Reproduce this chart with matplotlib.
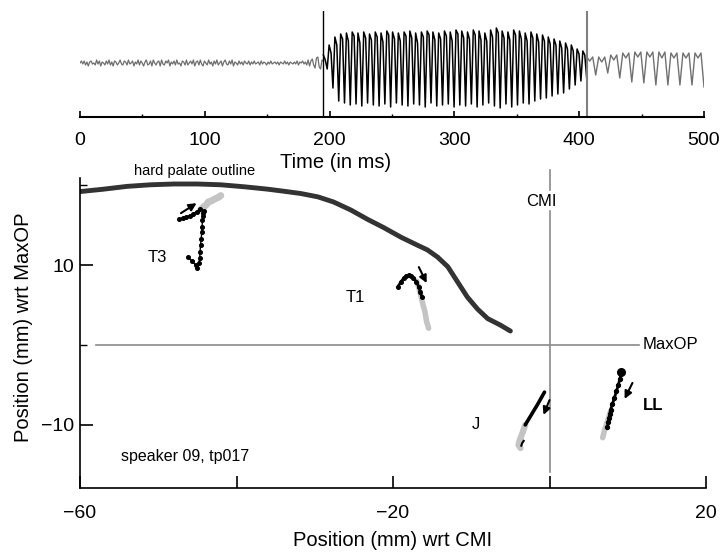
import numpy as np
import matplotlib
matplotlib.use("Agg")
import matplotlib.pyplot as plt

plt.rcParams['font.family'] = ['Liberation Sans', 'DejaVu Sans']

# ---- top panel: acoustic waveform (amplitude in arbitrary units) ----
noise_vals = [0, 2, -1, 2, -2, 1, -3, 1, 2, -1, 0, -2, 3, -1, 2, -3, 1, 0, -2, 2,
              -1, 3, -2, 1, -3, 2, 1, -2, 0, 3, -1, -2, 2, 1, -2, 3, -1, 0, 2, -3,
              1, -1, 3, -2, 2, 0, -3, 1, 3, -2, -1, 2, -3, 3, 0, -2, 1, 2, -3, 3,
              -1, -2, 2, 0, 3, -3, 1, -1, 2, -2, 3, -1, 0, -3, 2, 1, -2, 3, -2, 0,
              2, -1, 3, -3, 1, 2, -2, 3, -1, -3, 2, 0, -2, 3, -1, 1, -3, 2, -1, 3,
              -2, 0, 2, -3, 1, 3, -1, -2, 2, -1, 3, -3, 1, 0, -2, 2, -1, 1, -2, 2,
              0, -1, 2, -2, 1, -1, 2, -1, 0, 1, -2, 2, -1, 1, 0, -2, 1, -1, 2, -1,
              0, 1, -1, 1, -2, 1, 0, -1, 2, -1, 1, -2, 1, 0, -1, 1, -1, 2, -2, 1,
              0, 2, -1, 1, -2, 3, -3, 2, 4, -2, -5, 5, 6, -4, -6, 3, 2]
voiced_peaks = [8, 18, 26, 29, 30, 31, 30, 31, 29, 31, 30, 32, 31, 30, 31, 32, 30, 31,
                32, 31, 30, 32, 31, 33, 32, 31, 33, 32, 30, 33, 35, 32, 31, 33, 32, 30,
                31, 29, 28, 26, 24, 22, 20, 18, 14, 12]
voiced_shoulders = [3, 10, 18, 24, 22, 27, 20, 25, 23, 26, 21, 28, 24, 22, 27, 25, 20, 26,
                    28, 23, 24, 27, 22, 29, 25, 24, 28, 23, 22, 26, 30, 25, 23, 28, 24, 22,
                    25, 21, 22, 19, 18, 15, 14, 12, 9, 8]
voiced_troughs = [-6, -25, -38, -40, -42, -41, -43, -40, -42, -43, -41, -44, -40, -42,
                  -43, -41, -42, -44, -40, -43, -42, -41, -44, -42, -43, -41, -44, -42,
                  -40, -43, -45, -41, -44, -42, -40, -41, -38, -36, -35, -33, -31, -30,
                  -26, -22, -18, -15]
post_high = [6, 6, 8, 10, 11, 11, 11, 10, 10, 10]
post_notch = [2, 1, 3, 5, 6, 6, 5, 5, 5, 5]
post_trough = [-12, -10, -15, -19, -20, -22, -22, -22, -22, -24]
seg_bounds = [0, 195, 406, 500]   # ms

# ---- bottom panel: articulator trajectories (mm) ----
palate_x = [-60, -57, -54, -51, -48, -45, -42, -39, -36, -34, -31.8, -29.6, -27.6,
            -25.4, -23.2, -21.2, -19.0, -16.9, -15.6, -14.3, -13.0, -11.75, -10.5,
            -9.2, -7.9, -6.3, -5.0]
palate_y = [19.2, 19.5, 19.85, 20.05, 20.15, 20.15, 20.05, 19.8, 19.5, 19.25, 18.96,
            18.54, 17.9, 16.9, 15.7, 14.7, 13.5, 12.5, 11.9, 11.0, 9.8, 7.9, 6.0,
            4.5, 3.3, 2.5, 1.75]

t3_black_x = [-46.2, -45.7, -45.2, -45.0, -44.8, -44.7, -44.65, -44.6, -44.5, -44.45,
              -44.4, -44.35, -44.3, -44.25, -44.2]
t3_black_y = [11.0, 10.5, 10.0, 9.6, 10.2, 10.9, 11.7, 12.5, 13.3, 14.1, 14.8, 15.6,
              16.1, 16.5, 16.8]
t3_arm_x = [-47.4, -46.9, -46.5, -46.0, -45.6, -45.1, -44.7]
t3_arm_y = [15.75, 15.85, 16.0, 16.2, 16.4, 16.7, 17.0]
t3_gray_x = [-44.6, -44.2, -43.9, -43.6, -43.3, -42.8, -42.3, -42.0]
t3_gray_y = [16.9, 17.3, 17.5, 17.9, 18.0, 18.25, 18.5, 18.7]

t1_black_x = [-19.4, -19.0, -18.6, -18.3, -18.0, -17.7, -17.4, -17.0, -16.7, -16.5,
              -16.3]
t1_black_y = [7.25, 7.9, 8.4, 8.65, 8.75, 8.65, 8.4, 7.9, 7.25, 6.6, 6.0]
t1_gray_x = [-17.0, -16.7, -16.5, -16.3, -16.1, -15.9, -15.7, -15.45]
t1_gray_y = [8.0, 7.2, 6.4, 5.6, 4.8, 4.1, 2.9, 2.1]

j_black_x = [-0.64, -1.5, -2.3, -3.1]
j_black_y = [-5.9, -7.4, -8.7, -10.0]
j_gray_x = [-3.1, -3.45, -3.8, -3.96, -3.7]
j_gray_y = [-10.0, -11.0, -11.9, -12.5, -12.9]
j_hook_x = [-3.3, -3.5, -3.6]
j_hook_y = [-12.0, -12.3, -12.6]

ll_black_x = [9.2, 9.0, 8.8, 8.55, 8.3, 8.05, 7.8, 7.7, 7.6, 7.5, 7.4]
ll_black_y = [-3.4, -4.2, -5.0, -5.8, -6.6, -7.35, -8.1, -8.65, -9.2, -9.7, -10.25]
ll_gray_x = [7.8, 7.4, 7.0, 6.8]
ll_gray_y = [-8.3, -9.6, -10.8, -11.6]

fig = plt.figure(figsize=(7.23, 5.55), dpi=100)

# ===== top panel =====
ax1 = fig.add_axes([80/723, 1-117/555, 624/723, 106/555])
t_noise = np.linspace(seg_bounds[0], seg_bounds[1], len(noise_vals))
ax1.plot(t_noise, noise_vals, color='#6e6e6e', lw=0.9)

v = []
for p, sh, tr in zip(voiced_peaks, voiced_shoulders, voiced_troughs):
    v += [p, sh, tr]
t_voiced = np.linspace(seg_bounds[1], seg_bounds[2], len(v))
ax1.plot(t_voiced, v, color='black', lw=1.1)

w = []
for h, n, tr in zip(post_high, post_notch, post_trough):
    w += [h, n, h, tr]
t_post = np.linspace(seg_bounds[2], seg_bounds[3], len(w))
ax1.plot(t_post, w, color='#707070', lw=1.0)

ax1.axvline(195, color='black', lw=1.0)
ax1.axvline(406, color='#808080', lw=1.5)

ax1.set_xlim(0, 500)
ax1.set_ylim(-54, 52)
for s in ['top', 'right', 'left']:
    ax1.spines[s].set_visible(False)
ax1.spines['bottom'].set_linewidth(1.5)
ax1.set_yticks([])
ax1.set_xticks([0, 100, 200, 300, 400, 500])
ax1.set_xticks([50, 150, 250, 350, 450], minor=True)
ax1.tick_params(axis='x', which='major', direction='in', length=4, width=1.2,
                labelsize=14, pad=11)
ax1.tick_params(axis='x', which='minor', direction='in', length=2, width=1.0)
ax1.set_xlabel('Time (in ms)', fontsize=14.5)
ax1.xaxis.set_label_coords(0.41, -0.34)

# ===== bottom panel =====
ax2 = fig.add_axes([80/723, 1-488/555, 626/723, 310/555])
ax2.plot(palate_x, palate_y, color='#333333', lw=3.5, solid_capstyle='round')

gray = '#c4c4c4'
ax2.plot(t3_gray_x, t3_gray_y, color=gray, lw=5, solid_capstyle='round')
ax2.plot(t3_black_x, t3_black_y, color='black', lw=1.0, marker='o', ms=2.6)
ax2.plot(t3_arm_x, t3_arm_y, color='black', lw=1.0, marker='o', ms=2.6)

ax2.plot(t1_gray_x, t1_gray_y, color=gray, lw=4, solid_capstyle='round')
ax2.plot(t1_black_x, t1_black_y, color='black', lw=2.0, marker='o', ms=2.6)

ax2.plot(j_gray_x, j_gray_y, color=gray, lw=4.5, solid_capstyle='round')
ax2.plot(j_black_x, j_black_y, color='black', lw=2.6, solid_capstyle='round')
ax2.plot(j_hook_x, j_hook_y, color='black', lw=1.5)

ax2.plot(ll_gray_x, ll_gray_y, color=gray, lw=4, solid_capstyle='round')
ax2.plot(ll_black_x, ll_black_y, color='black', lw=2.0, marker='o', ms=2.8)
ax2.plot(ll_black_x[:1], ll_black_y[:1], 'o', color='black', ms=5.5)

arrows = [((-47.1, 16.5), (-45.1, 17.75)),
          ((-16.7, 9.75), (-15.7, 7.75)),
          ((0.0, -6.9), (-0.77, -8.75)),
          ((10.6, -4.75), (9.6, -6.75))]
for tail, head in arrows:
    ax2.annotate('', xy=head, xytext=tail,
                 arrowprops=dict(arrowstyle='-|>', color='black', lw=1.5,
                                 mutation_scale=11, shrinkA=0, shrinkB=0))

# reference lines
ax2.plot([-58, 11.4], [0, 0], color='#8a8a8a', lw=1.2)
ax2.plot([0, 0], [21.9, 19.4], color='#8a8a8a', lw=1.2, clip_on=False)
ax2.plot([0, 0], [16.8, -15.9], color='#8a8a8a', lw=1.2)

ax2.text(-1.0, 17.9, 'CMI', fontsize=12, ha='center', va='center')
ax2.text(11.9, 0, 'MaxOP', fontsize=12, ha='left', va='center')
ax2.text(-45.3, 21.8, 'hard palate outline', fontsize=10.5, ha='center', va='center')
ax2.text(-50.1, 10.9, 'T3', fontsize=12, ha='center', va='center')
ax2.text(-24.8, 6.0, 'T1', fontsize=12, ha='center', va='center')
ax2.text(-9.45, -10.0, 'J', fontsize=12, ha='center', va='center')
ax2.text(13.3, -7.6, 'LL', fontsize=12, ha='center', va='center', fontweight='bold')
ax2.text(-54.8, -14.0, 'speaker 09, tp017', fontsize=11.5, ha='left', va='center')

ax2.set_xlim(-60, 20)
ax2.set_ylim(-17.9, 20.9)
for s in ['top', 'right']:
    ax2.spines[s].set_visible(False)
ax2.spines['left'].set_linewidth(1.2)
ax2.spines['bottom'].set_linewidth(1.2)
ax2.set_xticks([-60, -40, -20, 0, 20])
ax2.set_xticklabels(['\u221260', '', '\u221220', '', '20'])
ax2.set_yticks([-10, 10])
ax2.set_yticklabels(['\u221210', '10'])
ax2.set_yticks([0, 20], minor=True)
ax2.tick_params(axis='x', direction='in', length=9, width=1.2, labelsize=14, pad=12)
ax2.tick_params(axis='y', which='major', direction='in', length=9, width=1.2,
                labelsize=14, pad=4)
ax2.tick_params(axis='y', which='minor', direction='in', length=5, width=1.0)
ax2.set_xlabel('Position (mm) wrt CMI', fontsize=14.5)
ax2.xaxis.set_label_coords(0.5, -0.14)
ax2.set_ylabel('Position (mm) wrt MaxOP', fontsize=14.5)
ax2.yaxis.set_label_coords(-0.075, 0.52)

plt.savefig('out.png', dpi=100)
